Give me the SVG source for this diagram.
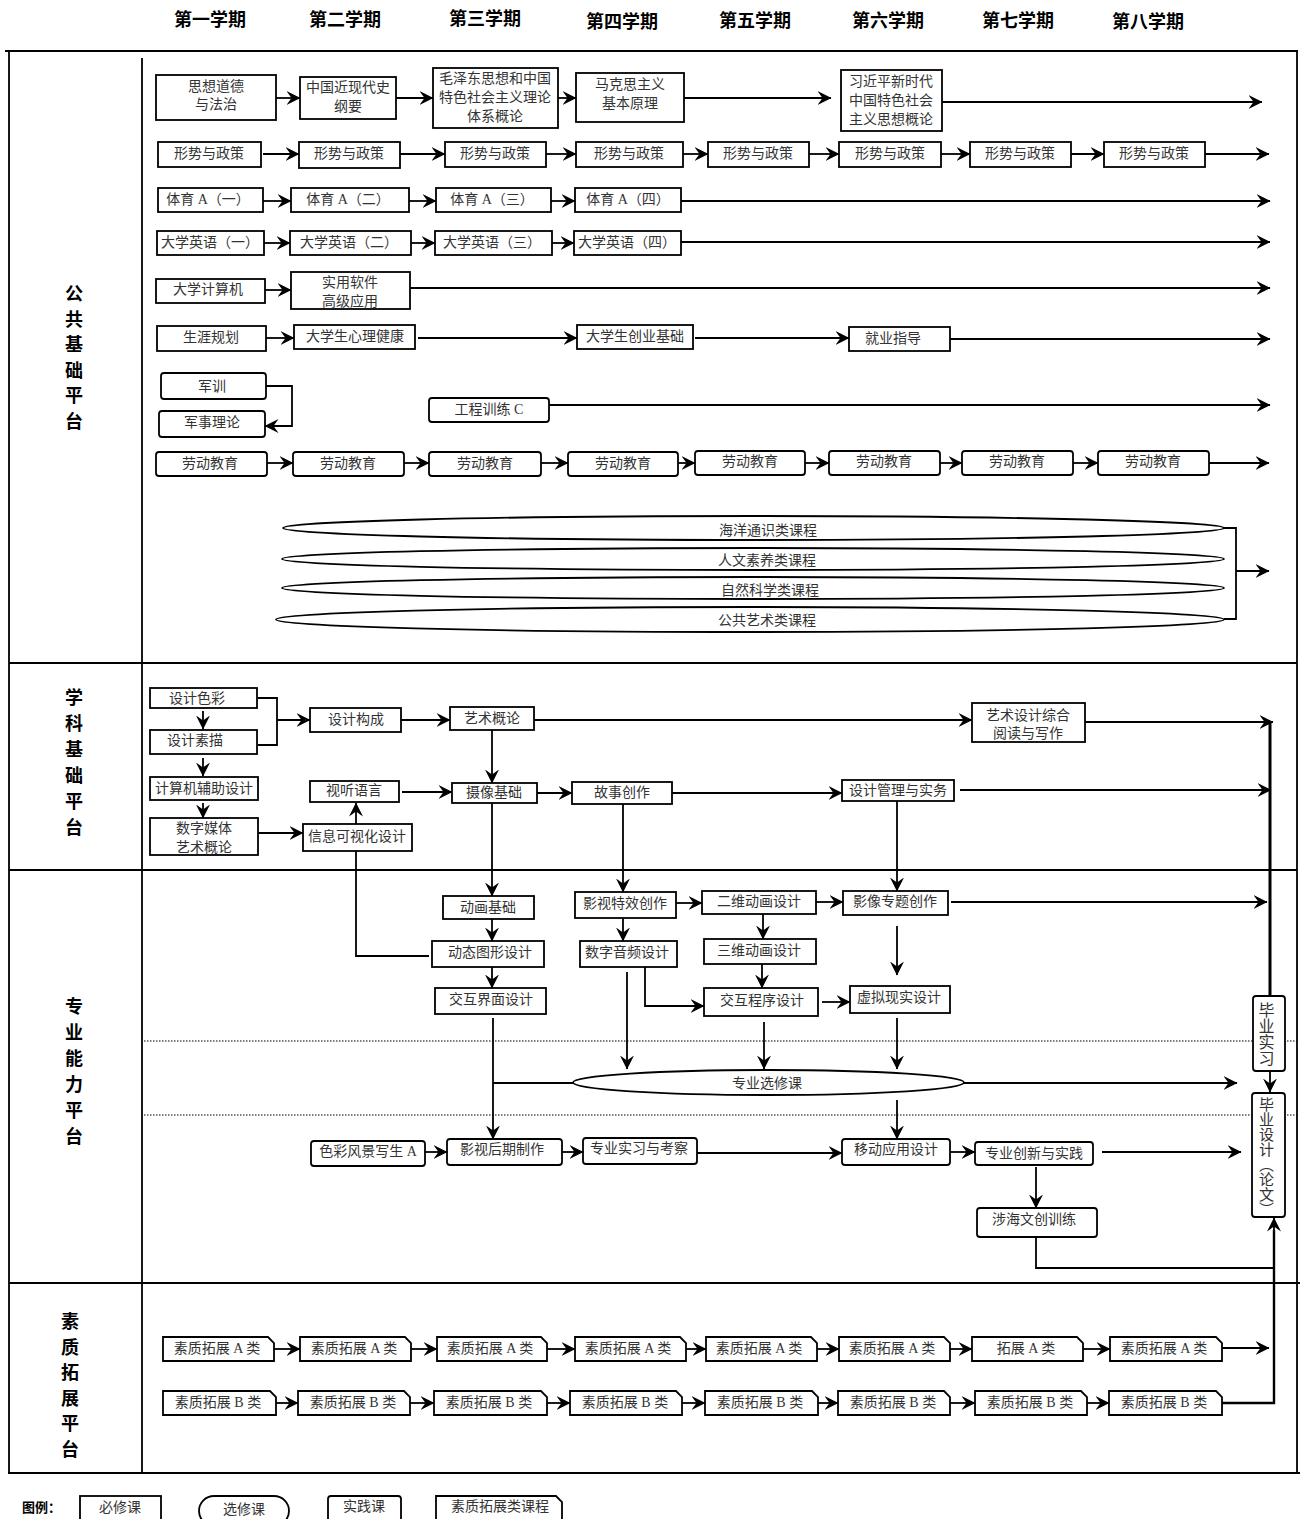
<svg xmlns="http://www.w3.org/2000/svg" width="1304" height="1519" viewBox="0 0 1304 1519">
<style>
.b{fill:#fff;stroke:#000;stroke-width:1.8}
.t{font-family:"Liberation Serif","Noto Sans CJK SC",serif;font-size:14px;fill:#333;text-anchor:middle;dominant-baseline:central}
.h{font-family:"Noto Sans CJK SC","Liberation Sans",sans-serif;font-size:18px;font-weight:bold;fill:#000;text-anchor:middle;dominant-baseline:central}
.v{font-family:"Noto Sans CJK SC","Liberation Sans",sans-serif;font-size:18px;font-weight:bold;fill:#000;text-anchor:middle;dominant-baseline:central}
.vt{font-family:"Liberation Serif","Noto Sans CJK SC",serif;fill:#333;writing-mode:vertical-rl}
.c{fill:none;stroke:#000;stroke-width:1.8;marker-end:url(#a)}
.l{fill:none;stroke:#000;stroke-width:1.8}
.g{fill:none;stroke:#000;stroke-width:1.8}
.d{fill:none;stroke:#000;stroke-width:1;stroke-dasharray:1.5 1.5}
</style>
<defs>
<marker id="a" viewBox="0 0 14 14" refX="13.5" refY="7" markerWidth="14" markerHeight="14" markerUnits="userSpaceOnUse" orient="auto"><path d="M0,0 L14,7 L0,14 L5,7 Z" fill="#000"/></marker>
</defs>
<rect width="1304" height="1519" fill="#fff"/>

<g id="header">
<text class="h" x="210" y="18">第一学期</text>
<text class="h" x="345" y="18">第二学期</text>
<text class="h" x="485" y="17">第三学期</text>
<text class="h" x="622" y="20">第四学期</text>
<text class="h" x="755" y="19">第五学期</text>
<text class="h" x="888" y="19">第六学期</text>
<text class="h" x="1018" y="19">第七学期</text>
<text class="h" x="1148" y="20">第八学期</text>
</g>

<g id="frame">
<path class="g" d="M5,51 H1298 M9,52 V1474 M142,58 V1474 M1297,52 V1474 M9,663 H1297 M9,870 H1297 M9,1283 H1300 M8,1473 H1300"/>
<path class="d" d="M144,1041 H1297 M144,1115 H1297"/>
</g>

<g id="platforms">
<text class="v" x="74" y="292">公</text><text class="v" x="74" y="318">共</text><text class="v" x="74" y="343">基</text><text class="v" x="74" y="369">础</text><text class="v" x="74" y="394">平</text><text class="v" x="74" y="420">台</text>
<text class="v" x="74" y="696">学</text><text class="v" x="74" y="722">科</text><text class="v" x="74" y="748">基</text><text class="v" x="74" y="774">础</text><text class="v" x="74" y="800">平</text><text class="v" x="74" y="826">台</text>
<text class="v" x="74" y="1005">专</text><text class="v" x="74" y="1031">业</text><text class="v" x="74" y="1057">能</text><text class="v" x="74" y="1083">力</text><text class="v" x="74" y="1109">平</text><text class="v" x="74" y="1135">台</text>
<text class="v" x="70" y="1320">素</text><text class="v" x="70" y="1346">质</text><text class="v" x="70" y="1371">拓</text><text class="v" x="70" y="1397">展</text><text class="v" x="70" y="1422">平</text><text class="v" x="70" y="1448">台</text>
</g>

<g id="connectors">
<path class="c" d="M276,98 H300"/>
<path class="c" d="M396,98 H433"/>
<path class="c" d="M558,98 H576"/>
<path class="c" d="M684,98 H831"/>
<path class="c" d="M942,102 H1262"/>
<path class="c" d="M263,154 H299"/>
<path class="c" d="M400,154 H445"/>
<path class="c" d="M546,154 H576"/>
<path class="c" d="M683,154 H708"/>
<path class="c" d="M809,154 H839"/>
<path class="c" d="M941,154 H970"/>
<path class="c" d="M1071,154 H1104"/>
<path class="c" d="M1205,154 H1269"/>
<path class="c" d="M263,201 H291"/>
<path class="c" d="M409,201 H436"/>
<path class="c" d="M551,201 H575"/>
<path class="c" d="M681,201 H1270"/>
<path class="c" d="M264,243 H290"/>
<path class="c" d="M411,243 H435"/>
<path class="c" d="M552,243 H574"/>
<path class="c" d="M681,242 H1270"/>
<path class="c" d="M265,290 H291"/>
<path class="c" d="M410,288 H1270"/>
<path class="c" d="M266,338 H294"/>
<path class="c" d="M418,338 H577"/>
<path class="c" d="M695,338 H849"/>
<path class="c" d="M950,339 H1270"/>
<path class="c" d="M266,386 H292 V426 H265"/>
<path class="c" d="M549,405 H1270"/>
<path class="c" d="M267,463 H293"/>
<path class="c" d="M404,463 H429"/>
<path class="c" d="M541,463 H568"/>
<path class="c" d="M678,463 H695"/>
<path class="c" d="M805,463 H829"/>
<path class="c" d="M940,463 H962"/>
<path class="c" d="M1073,463 H1098"/>
<path class="c" d="M1209,463 H1269"/>
<path class="l" d="M1224,528 H1236 V619 H1224"/>
<path class="c" d="M1236,571 H1269"/>
<path class="c" d="M203,711 V729"/>
<path class="l" d="M258,698 H277 V745 H258"/>
<path class="c" d="M277,720 H310"/>
<path class="c" d="M401,720 H450"/>
<path class="c" d="M534,720 H972"/>
<path class="c" d="M1085,722 H1273"/>
<path class="c" d="M203,758 V776"/>
<path class="c" d="M203,803 V818"/>
<path class="c" d="M258,833 H303"/>
<path class="c" d="M356,824 V803"/>
<path class="c" d="M402,792 H452"/>
<path class="c" d="M492,730 V783"/>
<path class="c" d="M537,793 H572"/>
<path class="c" d="M672,793 H842"/>
<path class="c" d="M960,790 H1271"/>
<path class="l" d="M356,851 V956 H429"/>
<path class="c" d="M492,803 V896"/>
<path class="c" d="M492,919 V941"/>
<path class="c" d="M492,967 V988"/>
<path class="c" d="M493,1018 V1139"/>
<path class="l" d="M493,1083 H573"/>
<path class="c" d="M623,804 V892"/>
<path class="c" d="M676,903 H702"/>
<path class="c" d="M816,902 H843"/>
<path class="c" d="M951,902 H1267"/>
<path class="c" d="M897,801 V891"/>
<path class="c" d="M623,918 V941"/>
<path class="c" d="M763,914 V939"/>
<path class="c" d="M762,964 V988"/>
<path class="c" d="M645,967 V1006 H704"/>
<path class="c" d="M822,1002 H850"/>
<path class="c" d="M897,926 V975"/>
<path class="c" d="M627,972 V1069"/>
<path class="c" d="M764,1022 V1069"/>
<path class="c" d="M897,1018 V1069"/>
<path class="c" d="M964,1083 H1237"/>
<path class="c" d="M897,1100 V1139"/>
<path class="c" d="M425,1152 H447"/>
<path class="c" d="M562,1152 H583"/>
<path class="c" d="M697,1153 H842"/>
<path class="c" d="M950,1152 H975"/>
<path class="c" d="M1102,1152 H1241"/>
<path class="c" d="M1036,1167 V1208"/>
<path class="l" d="M1036,1237 V1268 H1273"/>
<path fill="none" stroke="#000" stroke-width="3" d="M1270,996 V722"/>
<path class="c" d="M1270,1071 V1092"/>
<path fill="none" stroke="#000" stroke-width="2.4" d="M1222,1403 H1274 V1230"/>
<path class="c" d="M1274,1240 V1218"/>
<path class="c" d="M274,1349 H300"/>
<path class="c" d="M411,1349 H437"/>
<path class="c" d="M547,1349 H575"/>
<path class="c" d="M686,1349 H706"/>
<path class="c" d="M817,1349 H839"/>
<path class="c" d="M950,1349 H972"/>
<path class="c" d="M1083,1349 H1110"/>
<path class="c" d="M1222,1348 H1269"/>
<path class="c" d="M276,1403 H298"/>
<path class="c" d="M410,1403 H434"/>
<path class="c" d="M547,1403 H570"/>
<path class="c" d="M682,1403 H705"/>
<path class="c" d="M818,1403 H838"/>
<path class="c" d="M950,1403 H975"/>
<path class="c" d="M1087,1403 H1109"/>
</g>

<g id="n-szdd"><rect class="b" x="156" y="75" width="120" height="45"/><text class="t" x="216" y="86">思想道德</text><text class="t" x="216" y="104">与法治</text></g>
<g id="n-zgjxds"><rect class="b" x="300" y="77" width="96" height="42"/><text class="t" x="348" y="87">中国近现代史</text><text class="t" x="348" y="106">纲要</text></g>
<g id="n-mzd"><rect class="b" x="433" y="68" width="125" height="60"/><text class="t" x="495" y="78">毛泽东思想和中国</text><text class="t" x="495" y="97">特色社会主义理论</text><text class="t" x="495" y="116">体系概论</text></g>
<g id="n-mks"><rect class="b" x="576" y="73" width="108" height="49"/><text class="t" x="630" y="84">马克思主义</text><text class="t" x="630" y="103">基本原理</text></g>
<g id="n-xjp"><rect class="b" x="841" y="70" width="101" height="61"/><text class="t" x="891" y="81">习近平新时代</text><text class="t" x="891" y="100">中国特色社会</text><text class="t" x="891" y="119">主义思想概论</text></g>

<g id="n-xszc1"><rect class="b" x="158" y="142" width="103" height="25"/><text class="t" x="209" y="153">形势与政策</text></g>
<g id="n-xszc2"><rect class="b" x="299" y="142" width="101" height="26"/><text class="t" x="349" y="153">形势与政策</text></g>
<g id="n-xszc3"><rect class="b" x="445" y="142" width="101" height="25"/><text class="t" x="495" y="153">形势与政策</text></g>
<g id="n-xszc4"><rect class="b" x="576" y="142" width="107" height="25"/><text class="t" x="629" y="153">形势与政策</text></g>
<g id="n-xszc5"><rect class="b" x="708" y="142" width="101" height="25"/><text class="t" x="758" y="153">形势与政策</text></g>
<g id="n-xszc6"><rect class="b" x="839" y="142" width="102" height="25"/><text class="t" x="890" y="153">形势与政策</text></g>
<g id="n-xszc7"><rect class="b" x="970" y="142" width="101" height="25"/><text class="t" x="1020" y="153">形势与政策</text></g>
<g id="n-xszc8"><rect class="b" x="1104" y="142" width="101" height="25"/><text class="t" x="1154" y="153">形势与政策</text></g>

<g id="n-ty1"><rect class="b" x="158" y="188" width="105" height="24"/><text class="t" x="208" y="199">体育 A（一）</text></g>
<g id="n-ty2"><rect class="b" x="291" y="188" width="118" height="24"/><text class="t" x="348" y="199">体育 A（二）</text></g>
<g id="n-ty3"><rect class="b" x="436" y="188" width="115" height="24"/><text class="t" x="492" y="199">体育 A（三）</text></g>
<g id="n-ty4"><rect class="b" x="575" y="188" width="106" height="24"/><text class="t" x="628" y="199">体育 A（四）</text></g>

<g id="n-yy1"><rect class="b" x="157" y="231" width="107" height="24"/><text class="t" x="210" y="242">大学英语（一）</text></g>
<g id="n-yy2"><rect class="b" x="290" y="231" width="121" height="24"/><text class="t" x="349" y="242">大学英语（二）</text></g>
<g id="n-yy3"><rect class="b" x="435" y="231" width="117" height="24"/><text class="t" x="492" y="242">大学英语（三）</text></g>
<g id="n-yy4"><rect class="b" x="574" y="231" width="107" height="24"/><text class="t" x="627" y="242">大学英语（四）</text></g>

<g id="n-jsj"><rect class="b" x="156" y="279" width="109" height="24"/><text class="t" x="208" y="289">大学计算机</text></g>
<g id="n-syrj"><rect class="b" x="291" y="272" width="119" height="37"/><text class="t" x="350" y="282">实用软件</text><text class="t" x="350" y="301">高级应用</text></g>

<g id="n-syg"><rect class="b" x="157" y="326" width="109" height="25"/><text class="t" x="211" y="337">生涯规划</text></g>
<g id="n-xljk"><rect class="b" x="294" y="325" width="121" height="24"/><text class="t" x="355" y="336">大学生心理健康</text></g>
<g id="n-cyjc"><rect class="b" x="577" y="325" width="116" height="24"/><text class="t" x="635" y="336">大学生创业基础</text></g>
<g id="n-jyzd"><rect class="b" x="849" y="327" width="101" height="24"/><text class="t" x="893" y="338">就业指导</text></g>

<g id="n-jx"><rect class="b" x="161" y="373" width="105" height="26" rx="3"/><text class="t" x="212" y="386">军训</text></g>
<g id="n-jsll"><rect class="b" x="159" y="411" width="106" height="26" rx="3"/><text class="t" x="212" y="422">军事理论</text></g>
<g id="n-gcxl"><rect class="b" x="429" y="398" width="120" height="24" rx="3"/><text class="t" x="489" y="409">工程训练 C</text></g>

<g id="n-ldjy1"><rect class="b" x="156" y="452" width="111" height="24" rx="3"/><text class="t" x="210" y="463">劳动教育</text></g>
<g id="n-ldjy2"><rect class="b" x="293" y="452" width="111" height="24" rx="3"/><text class="t" x="348" y="463">劳动教育</text></g>
<g id="n-ldjy3"><rect class="b" x="429" y="452" width="112" height="24" rx="3"/><text class="t" x="485" y="463">劳动教育</text></g>
<g id="n-ldjy4"><rect class="b" x="568" y="452" width="110" height="24" rx="3"/><text class="t" x="623" y="463">劳动教育</text></g>
<g id="n-ldjy5"><rect class="b" x="695" y="451" width="110" height="24" rx="3"/><text class="t" x="750" y="461">劳动教育</text></g>
<g id="n-ldjy6"><rect class="b" x="829" y="451" width="111" height="24" rx="3"/><text class="t" x="884" y="461">劳动教育</text></g>
<g id="n-ldjy7"><rect class="b" x="962" y="451" width="111" height="24" rx="3"/><text class="t" x="1017" y="461">劳动教育</text></g>
<g id="n-ldjy8"><rect class="b" x="1098" y="451" width="111" height="24" rx="3"/><text class="t" x="1153" y="461">劳动教育</text></g>

<g id="n-hy"><ellipse class="b" cx="753.5" cy="528" rx="470.5" ry="12"/><text class="t" x="768" y="530">海洋通识类课程</text></g>
<g id="n-rw"><ellipse class="b" cx="753" cy="559" rx="471" ry="11"/><text class="t" x="767" y="560">人文素养类课程</text></g>
<g id="n-zr"><ellipse class="b" cx="753" cy="588" rx="471" ry="11"/><text class="t" x="770" y="590">自然科学类课程</text></g>
<g id="n-ys"><ellipse class="b" cx="750" cy="619.5" rx="474" ry="12.5"/><text class="t" x="767" y="620">公共艺术类课程</text></g>

<g id="n-sjsc"><rect class="b" x="150" y="688" width="107" height="20"/><text class="t" x="197" y="698">设计色彩</text></g>
<g id="n-sjsm"><rect class="b" x="150" y="730" width="107" height="24"/><text class="t" x="195" y="740">设计素描</text></g>
<g id="n-sjgc"><rect class="b" x="310" y="708" width="91" height="24"/><text class="t" x="356" y="719">设计构成</text></g>
<g id="n-ysgl"><rect class="b" x="450" y="707" width="84" height="23"/><text class="t" x="492" y="718">艺术概论</text></g>
<g id="n-ysjz"><rect class="b" x="972" y="703" width="113" height="39"/><text class="t" x="1028" y="715">艺术设计综合</text><text class="t" x="1028" y="733">阅读与写作</text></g>
<g id="n-jsjfz"><rect class="b" x="150" y="777" width="108" height="23"/><text class="t" x="204" y="788">计算机辅助设计</text></g>
<g id="n-szmt"><rect class="b" x="150" y="818" width="108" height="37"/><text class="t" x="204" y="828">数字媒体</text><text class="t" x="204" y="847">艺术概论</text></g>
<g id="n-xxksh"><rect class="b" x="303" y="824" width="109" height="27"/><text class="t" x="357" y="836">信息可视化设计</text></g>
<g id="n-stjy"><rect class="b" x="310" y="781" width="89" height="21"/><text class="t" x="354" y="790">视听语言</text></g>
<g id="n-sxjc"><rect class="b" x="452" y="783" width="85" height="20"/><text class="t" x="494" y="792">摄像基础</text></g>
<g id="n-gscz"><rect class="b" x="572" y="782" width="100" height="22"/><text class="t" x="622" y="792">故事创作</text></g>
<g id="n-sjgl"><rect class="b" x="842" y="780" width="112" height="21"/><text class="t" x="898" y="790">设计管理与实务</text></g>

<g id="n-dhjc"><rect class="b" x="443" y="896" width="91" height="23"/><text class="t" x="488" y="907">动画基础</text></g>
<g id="n-dtsj"><rect class="b" x="432" y="941" width="112" height="26"/><text class="t" x="490" y="952">动态图形设计</text></g>
<g id="n-jhjm"><rect class="b" x="435" y="988" width="111" height="26"/><text class="t" x="491" y="999">交互界面设计</text></g>
<g id="n-ystx"><rect class="b" x="575" y="892" width="101" height="26"/><text class="t" x="625" y="903">影视特效创作</text></g>
<g id="n-ewdh"><rect class="b" x="702" y="891" width="114" height="23"/><text class="t" x="759" y="901">二维动画设计</text></g>
<g id="n-yxzt"><rect class="b" x="843" y="891" width="105" height="24"/><text class="t" x="895" y="901">影像专题创作</text></g>
<g id="n-szyp"><rect class="b" x="580" y="941" width="97" height="26"/><text class="t" x="627" y="952">数字音频设计</text></g>
<g id="n-swdh"><rect class="b" x="704" y="939" width="112" height="25"/><text class="t" x="759" y="950">三维动画设计</text></g>
<g id="n-jhcx"><rect class="b" x="704" y="988" width="114" height="28"/><text class="t" x="762" y="1000">交互程序设计</text></g>
<g id="n-xnxs"><rect class="b" x="850" y="986" width="100" height="27"/><text class="t" x="899" y="997">虚拟现实设计</text></g>
<g id="n-zyxx"><ellipse class="b" cx="768.5" cy="1082.5" rx="195.5" ry="12.5"/><text class="t" x="767" y="1083">专业选修课</text></g>
<g id="n-cjfj"><rect class="b" x="311" y="1141" width="114" height="25" rx="3"/><text class="t" x="368" y="1151">色彩风景写生 A</text></g>
<g id="n-yshq"><rect class="b" x="447" y="1139" width="115" height="26" rx="3"/><text class="t" x="502" y="1149">影视后期制作</text></g>
<g id="n-zysx"><rect class="b" x="583" y="1138" width="114" height="26" rx="3"/><text class="t" x="639" y="1148">专业实习与考察</text></g>
<g id="n-ydyy"><rect class="b" x="842" y="1139" width="108" height="26" rx="3"/><text class="t" x="896" y="1149">移动应用设计</text></g>
<g id="n-zycx"><rect class="b" x="975" y="1142" width="118" height="23" rx="3"/><text class="t" x="1034" y="1153">专业创新与实践</text></g>
<g id="n-shwc"><rect class="b" x="977" y="1208" width="120" height="29" rx="3"/><text class="t" x="1034" y="1219">涉海文创训练</text></g>
<g id="n-bysx"><rect class="b" x="1253" y="996" width="32" height="75" rx="3"/><text class="vt" x="1265" y="1002" font-size="16">毕业实习</text></g>
<g id="n-bysj"><rect class="b" x="1252" y="1093" width="33" height="124" rx="3"/><text class="vt" x="1265" y="1097" font-size="15">毕业设计（论文）</text></g>

<g id="n-sa1"><path class="b" d="M163,1337 H268 L274,1343 V1361 H163 Z"/><text class="t" x="217" y="1348">素质拓展 A 类</text></g>
<g id="n-sa2"><path class="b" d="M300,1337 H405 L411,1343 V1361 H300 Z"/><text class="t" x="354" y="1348">素质拓展 A 类</text></g>
<g id="n-sa3"><path class="b" d="M437,1337 H541 L547,1343 V1361 H437 Z"/><text class="t" x="490" y="1348">素质拓展 A 类</text></g>
<g id="n-sa4"><path class="b" d="M575,1337 H680 L686,1343 V1361 H575 Z"/><text class="t" x="628" y="1348">素质拓展 A 类</text></g>
<g id="n-sa5"><path class="b" d="M706,1337 H811 L817,1343 V1361 H706 Z"/><text class="t" x="759" y="1348">素质拓展 A 类</text></g>
<g id="n-sa6"><path class="b" d="M839,1337 H944 L950,1343 V1361 H839 Z"/><text class="t" x="892" y="1348">素质拓展 A 类</text></g>
<g id="n-sa7"><path class="b" d="M972,1337 H1077 L1083,1343 V1361 H972 Z"/><text class="t" x="1026" y="1348">拓展 A 类</text></g>
<g id="n-sa8"><path class="b" d="M1110,1337 H1216 L1222,1343 V1361 H1110 Z"/><text class="t" x="1164" y="1348">素质拓展 A 类</text></g>

<g id="n-sb1"><path class="b" d="M163,1391 H270 L276,1397 V1415 H163 Z"/><text class="t" x="218" y="1402">素质拓展 B 类</text></g>
<g id="n-sb2"><path class="b" d="M298,1391 H404 L410,1397 V1415 H298 Z"/><text class="t" x="353" y="1402">素质拓展 B 类</text></g>
<g id="n-sb3"><path class="b" d="M434,1391 H541 L547,1397 V1415 H434 Z"/><text class="t" x="489" y="1402">素质拓展 B 类</text></g>
<g id="n-sb4"><path class="b" d="M570,1391 H676 L682,1397 V1415 H570 Z"/><text class="t" x="625" y="1402">素质拓展 B 类</text></g>
<g id="n-sb5"><path class="b" d="M705,1391 H812 L818,1397 V1415 H705 Z"/><text class="t" x="760" y="1402">素质拓展 B 类</text></g>
<g id="n-sb6"><path class="b" d="M838,1391 H944 L950,1397 V1415 H838 Z"/><text class="t" x="893" y="1402">素质拓展 B 类</text></g>
<g id="n-sb7"><path class="b" d="M975,1391 H1081 L1087,1397 V1415 H975 Z"/><text class="t" x="1030" y="1402">素质拓展 B 类</text></g>
<g id="n-sb8"><path class="b" d="M1109,1391 H1216 L1222,1397 V1415 H1109 Z"/><text class="t" x="1164" y="1402">素质拓展 B 类</text></g>

<g id="legend">
<text x="22" y="1506" font-family="Noto Sans CJK SC,sans-serif" font-size="13" font-weight="bold" dominant-baseline="central">图例：</text>
<rect class="b" x="80" y="1496" width="81" height="30"/><text class="t" x="120" y="1507">必修课</text>
<rect class="b" x="199" y="1496" width="90" height="30" rx="15"/><text class="t" x="244" y="1509">选修课</text>
<rect class="b" x="328" y="1496" width="73" height="30" rx="3"/><text class="t" x="364" y="1506">实践课</text>
<path class="b" d="M436,1496 H556 L562,1502 V1526 H436 Z"/><text class="t" x="500" y="1506">素质拓展类课程</text>
</g>
</svg>
